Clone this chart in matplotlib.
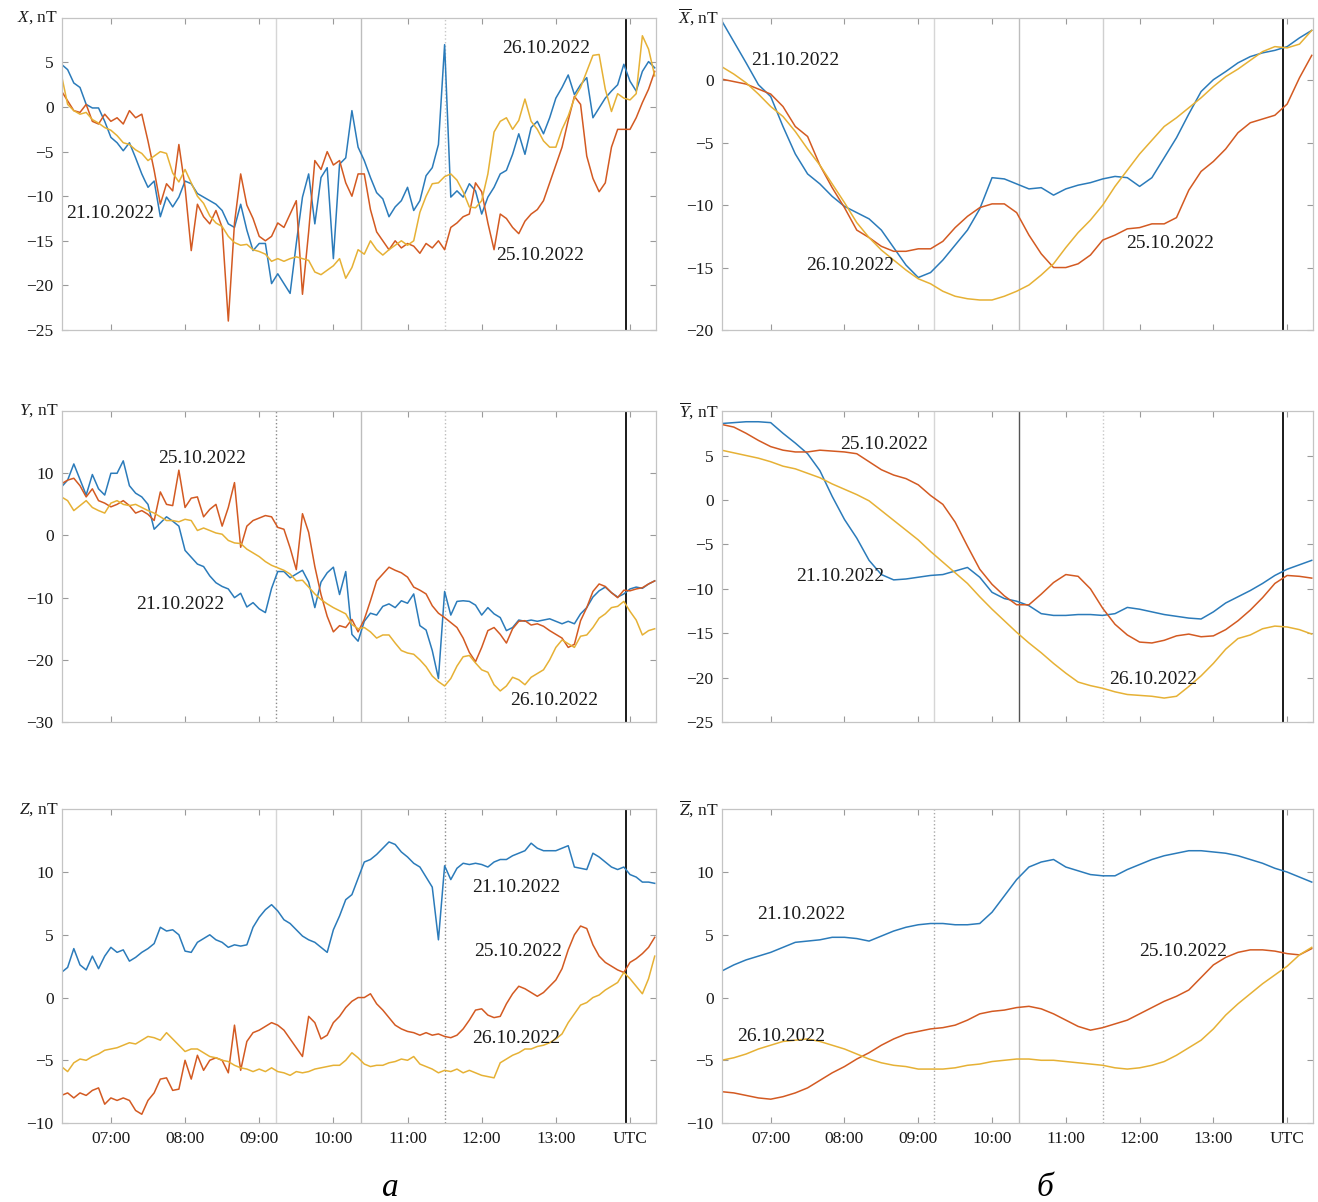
import numpy as np
import matplotlib

matplotlib.use("Agg")
import matplotlib.pyplot as plt

plt.rcParams["font.family"] = ["Liberation Serif", "DejaVu Serif"]
plt.rcParams["mathtext.fontset"] = "custom"
plt.rcParams["mathtext.rm"] = "Liberation Serif"
plt.rcParams["mathtext.it"] = "Liberation Serif:italic"

# --- data: raw components (5-min samples from 06:20 UTC) --------------------
X_2110 = [4.8, 4.2, 2.7, 2.2, 0.3, -0.1, -0.1, -1.6, -3.4, -4.0, -4.9, -4.0,
          -5.7, -7.5, -9.0, -8.3, -12.3, -10.1, -11.2, -10.1, -8.3, -8.6, -9.7,
          -10.1, -10.5, -10.9, -11.6, -13.1, -13.5, -10.9, -13.8, -16.1, -15.3,
          -15.3, -19.8, -18.7, -19.8, -20.9, -15.3, -10.1, -7.5, -13.1, -7.9,
          -6.8, -17.0, -6.4, -5.7, -0.4, -4.5,
          -6.0, -7.9, -9.6, -10.3, -12.3, -11.2, -10.5, -9.0, -11.6, -10.5,
          -7.7, -6.8, -4.2, 7.0, -10.1, -9.4, -10.1, -8.6, -9.4, -12.0, -10.1,
          -9.0, -7.5, -7.1, -5.3, -3.0, -5.3, -2.3, -1.6, -3.0, -1.2, 1.0, 2.2,
          3.6, 1.4, 2.5, 3.3, -1.2, -0.1, 1.0, 1.8, 2.5, 4.8, 2.9, 1.8, 4.0,
          5.1, 4.4]
X_2510 = [1.8, 0.7, -0.4, -0.6, 0.3, -1.6, -1.9, -0.8, -1.6, -1.2, -1.9, -0.4,
          -1.2, -0.8, -3.8, -7.1, -10.9, -8.6, -9.4, -4.2, -9.0, -16.1, -10.9,
          -12.3, -13.1, -11.6, -13.5, -24.0, -13.0, -7.5, -11.0, -12.5, -14.5,
          -15.0, -14.5, -13.0, -13.5, -12.0, -10.5, -21.0, -14.0, -6.0, -7.0,
          -5.0, -6.5, -6.0, -8.5, -10.0, -7.5,
          -7.5, -11.5, -14.0, -15.0, -16.0, -15.0, -15.8, -15.3, -15.6, -16.4,
          -15.3, -15.8, -15.0, -16.0, -13.5, -13.0, -12.3, -12.0, -8.5, -9.5,
          -13.0, -16.0, -12.0, -12.5, -13.5, -14.2, -12.8, -12.0, -11.5, -10.5,
          -8.5, -6.5, -4.5, -1.5, 1.2, 0.3, -5.5, -8.0, -9.5, -8.5, -4.5, -2.5,
          -2.5, -2.5, -1.2, 0.5, 2.0, 4.0]
X_2610 = [3.6, 0.3, -0.4, -0.8, -0.6, -1.4, -1.8, -2.3, -2.6, -3.2, -4.0, -4.2,
          -4.8, -5.2, -6.0, -5.5, -5.0, -5.2, -7.4, -8.4, -7.0, -8.5, -10.0,
          -10.8, -12.2, -13.0, -13.4, -14.5, -15.2, -15.5, -15.4, -16.0, -16.2,
          -16.5, -17.3, -17.0, -17.3, -17.0, -16.8, -17.0, -17.2, -18.5, -18.8,
          -18.3, -17.8, -17.0, -19.2, -18.0, -16.0,
          -16.5, -15.0, -16.0, -16.6, -16.0, -15.5, -15.0, -15.5, -15.0, -11.8,
          -10.0, -8.6, -8.5, -7.8, -7.5, -8.2, -9.5, -11.2, -11.3, -10.5, -7.5,
          -2.8, -1.6, -1.2, -2.5, -1.5, 0.9, -1.6, -2.5, -3.8, -4.5, -4.5, -2.5,
          -1.0, 1.0, 2.2, 4.0, 5.8, 5.9, 2.0, -0.5, 1.5, 1.0, 0.8, 1.5, 8.0,
          6.5, 3.5]

Y_2110 = [7.8, 8.9, 11.5, 9.0, 6.5, 9.8, 7.5, 6.5, 10.0, 10.0, 12.0, 8.0, 6.8,
          6.2, 5.0, 1.0, 2.0, 3.0, 2.3, 1.5, -2.4, -3.5, -4.6, -5.0, -6.5, -7.6,
          -8.2, -8.6, -10.0, -9.3, -11.5, -10.8, -11.8, -12.4, -8.5, -5.8, -5.8,
          -6.8, -6.2, -5.6, -7.5, -11.6, -7.5, -6.0, -5.1, -9.5, -5.8, -15.9,
          -17.0,
          -13.8, -12.5, -12.8, -11.4, -11.0, -11.6, -10.5, -10.9, -9.4, -14.5,
          -15.2, -18.5, -23.0, -9.0, -12.8, -10.6, -10.5, -10.6, -11.2, -12.8,
          -11.6, -12.6, -13.2, -15.3, -14.8, -13.6, -13.8, -13.6, -13.8, -13.6,
          -13.4, -13.8, -14.2, -13.8, -14.2, -12.6, -11.6, -9.9, -8.9, -8.3,
          -9.2, -9.9, -9.4, -8.6, -8.3, -8.5, -7.8, -7.3]
Y_2510 = [8.3, 8.9, 9.2, 8.0, 6.2, 7.5, 5.6, 5.2, 4.6, 5.0, 5.6, 4.8, 3.6, 4.0,
          3.4, 2.4, 7.0, 5.0, 4.8, 10.5, 4.5, 6.0, 6.2, 3.0, 4.2, 5.0, 1.5, 4.5,
          8.5, -1.9, 1.5, 2.4, 2.8, 3.2, 3.0, 1.3, 1.0, -2.0, -5.5, 3.5, 0.5,
          -5.0, -9.5, -13.0, -15.5, -14.5, -14.8, -13.5, -15.5,
          -13.5, -10.5, -7.3, -6.2, -5.1, -5.6, -6.0, -6.7, -8.3, -8.8, -9.4,
          -11.3, -12.5, -13.2, -14.0, -14.8, -16.5, -18.8, -20.3, -18.0, -15.3,
          -14.8, -15.9, -17.3, -15.0, -13.8, -13.7, -14.4, -14.2, -14.6, -15.3,
          -15.9, -16.5, -18.0, -17.5, -13.7, -11.6, -9.0, -7.8, -8.2, -9.2,
          -10.0, -8.8, -8.9, -8.6, -8.4, -7.8, -7.3]
Y_2610 = [6.2, 5.6, 4.0, 4.8, 5.6, 4.5, 4.0, 3.6, 5.2, 5.6, 5.0, 4.8, 5.0, 4.5,
          4.0, 3.6, 3.0, 2.4, 2.4, 2.2, 2.6, 2.4, 0.8, 1.2, 0.8, 0.4, 0.2, -0.8,
          -1.2, -1.3, -2.2, -2.8, -3.4, -4.2, -4.8, -5.2, -5.6, -6.2, -7.3, -7.2,
          -8.3, -9.4, -10.3, -11.0, -11.6, -12.1, -12.6, -14.3, -15.0,
          -14.8, -15.5, -16.5, -16.0, -16.0, -17.3, -18.5, -18.9, -19.1, -20.0,
          -21.1, -22.6, -23.5, -24.2, -23.0, -21.0, -19.5, -19.3, -20.5, -21.6,
          -22.0, -24.0, -25.0, -24.2, -22.8, -23.2, -24.0, -22.8, -22.2, -21.6,
          -20.0, -18.0, -16.8, -17.4, -18.0, -16.2, -16.0, -14.8, -13.3, -12.6,
          -11.6, -11.4, -10.6, -12.2, -13.6, -16.0, -15.3, -15.0]

Z_2110 = [2.0, 2.4, 3.9, 2.6, 2.2, 3.3, 2.3, 3.3, 4.0, 3.6, 3.8, 2.9, 3.2, 3.6,
          3.9, 4.3, 5.6, 5.3, 5.4, 5.0, 3.7, 3.6, 4.4, 4.7, 5.0, 4.6, 4.4, 4.0,
          4.2, 4.1, 4.2, 5.6, 6.4, 7.0, 7.4, 6.9, 6.2, 5.9, 5.4, 4.9, 4.6, 4.4,
          4.0, 3.6, 5.4, 6.5, 7.8, 8.2, 9.5,
          10.8, 11.0, 11.4, 11.9, 12.4, 12.2, 11.6, 11.2, 10.7, 10.4, 9.6, 8.8,
          4.6, 10.5, 9.4, 10.3, 10.7, 10.6, 10.7, 10.6, 10.4, 10.8, 11.0, 11.0,
          11.3, 11.5, 11.7, 12.3, 11.9, 11.7, 11.7, 11.7, 11.9, 12.1, 10.4,
          10.3, 10.2, 11.5, 11.2, 10.8, 10.4, 10.2, 10.4, 9.8, 9.6, 9.2, 9.2,
          9.1]
Z_2510 = [-7.8, -7.6, -8.0, -7.6, -7.8, -7.4, -7.2, -8.5, -8.0, -8.2, -8.0, -8.2,
          -9.0, -9.3, -8.2, -7.6, -6.5, -6.4, -7.4, -7.3, -5.0, -6.5, -4.6,
          -5.8, -5.0, -4.8, -5.0, -6.0, -2.2, -5.8, -3.5, -2.8, -2.6, -2.3,
          -2.0, -2.2, -2.6, -3.3, -4.0, -4.7, -1.5, -2.0, -3.3, -3.0, -2.0,
          -1.5, -0.8, -0.3, 0.0,
          0.0, 0.3, -0.5, -1.0, -1.6, -2.2, -2.5, -2.7, -2.8, -3.0, -2.8, -3.0,
          -2.9, -3.1, -3.2, -3.0, -2.5, -1.8, -1.0, -0.9, -1.4, -1.6, -1.5,
          -0.5, 0.3, 0.9, 0.7, 0.4, 0.1, 0.4, 0.9, 1.4, 2.3, 3.8, 5.0, 5.7, 5.5,
          4.2, 3.3, 2.8, 2.5, 2.2, 2.0, 2.8, 3.1, 3.5, 4.0, 4.8]
Z_2610 = [-5.5, -5.9, -5.2, -4.9, -5.0, -4.7, -4.5, -4.2, -4.1, -4.0, -3.8, -3.6,
          -3.7, -3.4, -3.1, -3.2, -3.4, -2.8, -3.3, -3.8, -4.3, -4.1, -4.1,
          -4.4, -4.7, -4.8, -5.0, -5.1, -5.4, -5.6, -5.7, -5.9, -5.7, -5.9,
          -5.6, -5.9, -6.0, -6.2, -5.9, -6.0, -5.9, -5.7, -5.6, -5.5, -5.4,
          -5.4, -5.0, -4.4, -4.8,
          -5.3, -5.5, -5.4, -5.4, -5.2, -5.1, -4.9, -5.0, -4.7, -5.3, -5.5,
          -5.7, -6.0, -5.8, -5.9, -5.7, -6.0, -5.8, -6.0, -6.2, -6.3, -6.4,
          -5.2, -4.9, -4.6, -4.4, -4.1, -4.1, -3.9, -3.8, -3.6, -3.3, -2.9,
          -2.0, -1.3, -0.6, -0.4, 0.0, 0.2, 0.6, 0.9, 1.2, 2.0, 1.5, 0.9, 0.3,
          1.5, 3.3]

# --- data: smoothed components (10-min samples from 06:20 UTC) --------------
XS_2110 = [4.8, 3.1, 1.4, -0.35, -1.3, -3.7, -5.9, -7.5, -8.3, -9.3, -10.1,
           -10.6, -11.1, -12.0, -13.4, -14.8, -15.8, -15.4, -14.4, -13.2, -12.0,
           -10.3, -7.8, -7.9, -8.3, -8.7, -8.6, -9.2, -8.7, -8.4, -8.2, -7.9,
           -7.7, -7.8, -8.5, -7.8, -6.2, -4.6, -2.7, -0.9, 0.05, 0.7, 1.4, 1.9,
           2.2, 2.4, 2.7, 3.4, 4.0]
XS_2510 = [0.1, -0.1, -0.3, -0.7, -1.1, -2.1, -3.7, -4.5, -6.8, -8.6, -10.2,
           -12.0, -12.6, -13.3, -13.7, -13.7, -13.5, -13.5, -12.9, -11.8, -10.9,
           -10.2, -9.9, -9.9, -10.6, -12.4, -13.9, -15.0, -15.0, -14.7, -14.0,
           -12.8, -12.4, -11.9, -11.8, -11.5, -11.5, -11.0, -8.8, -7.3, -6.5,
           -5.5, -4.2, -3.4, -3.1, -2.8, -1.9, 0.2, 2.0]
XS_2610 = [1.1, 0.5, -0.2, -1.1, -2.1, -2.9, -4.1, -5.5, -6.8, -8.3, -9.8,
           -11.4, -12.6, -13.6, -14.4, -15.2, -15.9, -16.3, -16.9, -17.3, -17.5,
           -17.6, -17.6, -17.3, -16.9, -16.4, -15.6, -14.7, -13.4, -12.2, -11.2,
           -10.0, -8.5, -7.2, -5.9, -4.8, -3.7, -3.0, -2.2, -1.4, -0.5, 0.3, 0.9,
           1.6, 2.3, 2.7, 2.6, 2.9, 4.0]

YS_2110 = [8.6, 8.7, 8.8, 8.8, 8.7, 7.5, 6.4, 5.2, 3.3, 0.4, -2.2, -4.3, -6.8,
           -8.4, -9.0, -8.9, -8.7, -8.5, -8.4, -8.0, -7.6, -8.7, -10.4, -11.1,
           -11.4, -11.9, -12.8, -13.0, -13.0, -12.9, -12.9, -13.0, -12.8, -12.1,
           -12.3, -12.6, -12.9, -13.1, -13.3, -13.4, -12.6, -11.6, -10.9, -10.2,
           -9.4, -8.5, -7.8, -7.3, -6.8]
YS_2510 = [8.5, 8.2, 7.5, 6.7, 6.0, 5.6, 5.4, 5.4, 5.6, 5.5, 5.4, 5.2, 4.3, 3.4,
           2.8, 2.4, 1.7, 0.5, -0.5, -2.5, -5.2, -7.8, -9.5, -10.8, -11.8,
           -11.8, -10.6, -9.3, -8.4, -8.6, -10.0, -12.2, -14.0, -15.2, -16.0,
           -16.1, -15.8, -15.3, -15.1, -15.4, -15.3, -14.6, -13.6, -12.4, -11.0,
           -9.4, -8.5, -8.6, -8.8]
YS_2610 = [5.6, 5.3, 5.0, 4.7, 4.3, 3.8, 3.5, 3.0, 2.5, 1.8, 1.2, 0.6, -0.1,
           -1.2, -2.3, -3.4, -4.5, -5.8, -7.0, -8.2, -9.4, -10.9, -12.3, -13.6,
           -14.9, -16.1, -17.2, -18.4, -19.5, -20.5, -20.9, -21.2, -21.6, -21.9,
           -22.0, -22.1, -22.3, -22.1, -21.0, -19.8, -18.4, -16.8, -15.6, -15.2,
           -14.5, -14.2, -14.3, -14.6, -15.1]

ZS_2110 = [2.1, 2.6, 3.0, 3.3, 3.6, 4.0, 4.4, 4.5, 4.6, 4.8, 4.8, 4.7, 4.5, 4.9,
           5.3, 5.6, 5.8, 5.9, 5.9, 5.8, 5.8, 5.9, 6.8, 8.1, 9.4, 10.4, 10.8,
           11.0, 10.4, 10.1, 9.8, 9.7, 9.7, 10.2, 10.6, 11.0, 11.3, 11.5, 11.7,
           11.7, 11.6, 11.5, 11.3, 11.0, 10.7, 10.3, 10.0, 9.6, 9.2]
ZS_2510 = [-7.5, -7.6, -7.8, -8.0, -8.1, -7.9, -7.6, -7.2, -6.6, -6.0, -5.5,
           -4.9, -4.4, -3.8, -3.3, -2.9, -2.7, -2.5, -2.4, -2.2, -1.8, -1.3,
           -1.1, -1.0, -0.8, -0.7, -0.9, -1.3, -1.8, -2.3, -2.6, -2.4, -2.1,
           -1.8, -1.3, -0.8, -0.3, 0.1, 0.6, 1.6, 2.6, 3.2, 3.6, 3.8, 3.8, 3.7,
           3.5, 3.4, 3.9]
ZS_2610 = [-5.0, -4.8, -4.5, -4.1, -3.8, -3.5, -3.4, -3.3, -3.5, -3.8, -4.1,
           -4.5, -4.9, -5.2, -5.4, -5.5, -5.7, -5.7, -5.7, -5.6, -5.4, -5.3,
           -5.1, -5.0, -4.9, -4.9, -5.0, -5.0, -5.1, -5.2, -5.3, -5.4, -5.6,
           -5.7, -5.6, -5.4, -5.1, -4.6, -4.0, -3.4, -2.5, -1.4, -0.5, 0.3, 1.1,
           1.8, 2.5, 3.4, 4.0]

HOUR_TICKS = [7, 8, 9, 10, 11, 12, 13, 14]
HOUR_LABELS = ["07:00", "08:00", "09:00", "10:00", "11:00", "12:00", "13:00", "UTC"]
DAYS = ["21.10.2022", "25.10.2022", "26.10.2022"]

COLORS = ["#2b7bba", "#d35a22", "#e6b135"]

# time grids (hours UTC)
T5 = 6 + 20 / 60 + np.arange(len(X_2110)) / 12
T10 = 6 + 20 / 60 + np.arange(len(XS_2110)) / 6

# (series, ylabel, ylim, yticks, vlines-style, day labels (t, v))
PANELS = [
    # left column
    ((0.047, 0.7255, 0.4507, 0.2596), T5, (X_2110, X_2510, X_2610),
     r"$X$, nT", (-25, 10), [-25, -20, -15, -10, -5, 0, 5],
     [("#d6d6d6", "-"), ("#bdbdbd", "-"), ("#c8c8c8", ":")],
     [(6.39, -11.9), (12.2, -16.6), (12.27, 6.6)]),
    ((0.047, 0.3993, 0.4507, 0.2587), T5, (Y_2110, Y_2510, Y_2610),
     r"$Y$, nT", (-30, 20), [-30, -20, -10, 0, 10],
     [("#8a8a8a", ":"), ("#bdbdbd", "-"), ("#bdbdbd", ":")],
     [(7.34, -11.1), (7.64, 12.4), (12.38, -26.5)]),
    ((0.047, 0.0657, 0.4507, 0.2610), T5, (Z_2110, Z_2510, Z_2610),
     r"$Z$, nT", (-10, 15), [-10, -5, 0, 5, 10],
     [("#d6d6d6", "-"), ("#bdbdbd", "-"), ("#8a8a8a", ":")],
     [(11.87, 8.8), (11.9, 3.7), (11.87, -3.3)]),
    # right column
    ((0.5478, 0.7255, 0.4484, 0.2596), T10, (XS_2110, XS_2510, XS_2610),
     r"$\overline{X}$, nT", (-20, 5), [-20, -15, -10, -5, 0],
     [("#d6d6d6", "-"), ("#bdbdbd", "-"), ("#d0d0d0", "-")],
     [(6.74, 1.6), (11.82, -13.1), (7.48, -14.8)]),
    ((0.5478, 0.3993, 0.4484, 0.2587), T10, (YS_2110, YS_2510, YS_2610),
     r"$\overline{Y}$, nT", (-25, 10), [-25, -20, -15, -10, -5, 0, 5],
     [("#d6d6d6", "-"), ("#555555", "-"), ("#c8c8c8", ":")],
     [(7.35, -8.6), (7.94, 6.2), (11.59, -20.2)]),
    ((0.5478, 0.0657, 0.4484, 0.2610), T10, (ZS_2110, ZS_2510, ZS_2610),
     r"$\overline{Z}$, nT", (-10, 15), [-10, -5, 0, 5, 10],
     [("#a8a8a8", ":"), ("#bdbdbd", "-"), ("#a8a8a8", ":")],
     [(6.82, 6.6), (11.99, 3.65), (6.55, -3.1)]),
]

EVENT_TIMES = [9.22, 10.37, 11.5]
MARK_TIME = 13.95

fig = plt.figure(figsize=(13.18, 12.02), dpi=100)

for i, (rect, t, series, ylabel, ylim, yticks, vstyles, day_pos) in enumerate(PANELS):
    ax = fig.add_axes(rect)
    for (vc, vls), vt in zip(vstyles, EVENT_TIMES):
        ax.axvline(vt, color=vc, linestyle=vls, linewidth=1.0, zorder=1)
    ax.axvline(MARK_TIME, color="#1a1a1a", linewidth=1.4, zorder=1)

    for s, c in zip(series, COLORS):
        ax.plot(t, s, color=c, linewidth=1.1, zorder=2)

    for (tx, ty), day in zip(day_pos, DAYS):
        ax.text(tx, ty, day, fontsize=14, color="#1a1a1a", ha="left",
                va="center", zorder=3)

    ax.set_xlim(6.34, 14.35)
    ax.set_ylim(*ylim)
    ax.set_yticks(yticks)
    ax.set_xticks(HOUR_TICKS)
    if i in (2, 5):
        ax.set_xticklabels(HOUR_LABELS)
    else:
        ax.set_xticklabels([])
    ax.tick_params(direction="in", length=4, width=0.8, color="#9a9a9a",
                   labelsize=12.5, labelcolor="#1a1a1a", top=True, right=True,
                   pad=6)
    for sp in ax.spines.values():
        sp.set_color("#c4c4c4")
        sp.set_linewidth(0.9)
    ax.text(-0.006, 1.0, ylabel, transform=ax.transAxes, fontsize=12.5,
            ha="right", va="center", color="#1a1a1a")

fig.text(390 / 1318, 1 - 1188 / 1202, "а", fontsize=24, style="italic",
         ha="center", va="center")
fig.text(1045 / 1318, 1 - 1188 / 1202, "б", fontsize=24, style="italic",
         ha="center", va="center")

fig.savefig("out.png", dpi=100)
